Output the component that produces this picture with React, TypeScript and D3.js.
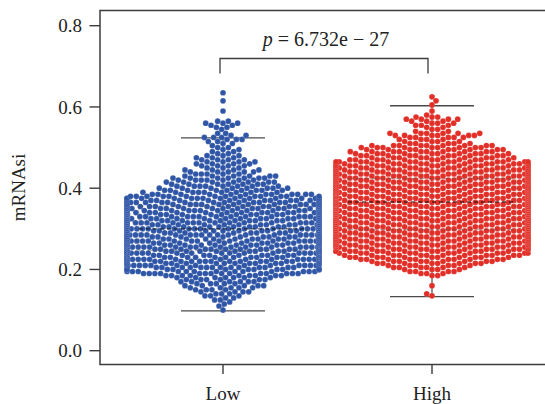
import React from "react";
import * as d3 from "d3";

// ---- data ----
const categories = ["Low", "High"];

// swarm values: value level -> number of samples at that level
const lowLevels = [0.100, 0.110, 0.115, 0.120, 0.125, 0.130, 0.135, 0.140, 0.145, 0.150, 0.155, 0.160, 0.165, 0.170, 0.175, 0.180, 0.185, 0.190, 0.195, 0.200, 0.205, 0.210, 0.215, 0.220, 0.225, 0.230, 0.235, 0.240, 0.245, 0.250, 0.255, 0.260, 0.265, 0.270, 0.275, 0.280, 0.285, 0.290, 0.295, 0.300, 0.305, 0.310, 0.315, 0.320, 0.325, 0.330, 0.335, 0.340, 0.345, 0.350, 0.355, 0.360, 0.365, 0.370, 0.375, 0.380, 0.385, 0.390, 0.395, 0.400, 0.405, 0.410, 0.415, 0.420, 0.425, 0.430, 0.435, 0.440, 0.445, 0.450, 0.455, 0.460, 0.465, 0.470, 0.475, 0.480, 0.485, 0.490, 0.495, 0.500, 0.505, 0.510, 0.515, 0.520, 0.525, 0.530, 0.535, 0.545, 0.550, 0.555, 0.560, 0.565, 0.590, 0.615, 0.635];
const lowCounts = [1, 1, 1, 1, 2, 2, 3, 3, 4, 4, 5, 5, 5, 6, 6, 7, 9, 14, 13, 14, 14, 15, 16, 17, 18, 19, 20, 21, 22, 22, 23, 23, 23, 23, 23, 23, 23, 23, 23, 23, 22, 22, 21, 21, 20, 20, 19, 19, 18, 18, 17, 17, 16, 15, 15, 14, 12, 9, 9, 8, 8, 7, 7, 7, 7, 6, 5, 5, 4, 3, 4, 4, 4, 4, 3, 3, 2, 2, 2, 2, 1, 2, 2, 3, 3, 2, 2, 1, 2, 2, 3, 2, 1, 1, 1];

const highLevels = [0.135, 0.140, 0.160, 0.185, 0.190, 0.195, 0.200, 0.205, 0.210, 0.215, 0.220, 0.225, 0.230, 0.235, 0.240, 0.245, 0.250, 0.255, 0.260, 0.265, 0.270, 0.275, 0.280, 0.285, 0.290, 0.295, 0.300, 0.305, 0.310, 0.315, 0.320, 0.325, 0.330, 0.335, 0.340, 0.345, 0.350, 0.355, 0.360, 0.365, 0.370, 0.375, 0.380, 0.385, 0.390, 0.395, 0.400, 0.405, 0.410, 0.415, 0.420, 0.425, 0.430, 0.435, 0.440, 0.445, 0.450, 0.455, 0.460, 0.465, 0.470, 0.475, 0.480, 0.485, 0.490, 0.495, 0.500, 0.505, 0.510, 0.515, 0.520, 0.525, 0.530, 0.535, 0.540, 0.545, 0.550, 0.555, 0.560, 0.565, 0.570, 0.575, 0.580, 0.590, 0.605, 0.615, 0.625];
const highCounts = [1, 1, 1, 2, 3, 4, 4, 6, 6, 8, 9, 10, 11, 12, 13, 13, 14, 15, 17, 18, 19, 20, 20, 21, 21, 22, 22, 22, 22, 22, 22, 23, 23, 23, 23, 23, 23, 23, 23, 23, 23, 23, 23, 22, 22, 21, 21, 20, 20, 19, 19, 18, 18, 17, 17, 16, 16, 15, 15, 14, 11, 10, 10, 10, 10, 9, 9, 9, 5, 4, 4, 5, 6, 6, 2, 2, 2, 3, 3, 3, 4, 3, 1, 1, 1, 1, 1];

// box statistics: [lower whisker, Q1, median, Q3, upper whisker]
const lowBox = [0.098, 0.247, 0.3, 0.356, 0.524];
const highBox = [0.133, 0.298, 0.366, 0.424, 0.603];

const yTicks = [0, 0.2, 0.4, 0.6, 0.8];
const yLabel = "mRNAsi";
const pValue = "6.732e − 27";

const colors = ["#2e55a6", "#e12e27"];

// ---- layout ----
const W = 545;
const H = 404;
const frame = { left: 100, top: 10.5, right: 560, bottom: 364.5 };
const R = 2.85;
const CAP = 96;
const FONT = "'Liberation Serif', 'Times New Roman', serif";

const y = d3.scaleLinear().domain([0, 0.8]).range([350.7, 25.7]);
const x = d3.scalePoint<string>().domain(categories).range([223, 432]);

function expand(levels: number[], counts: number[]) {
  const out: number[] = [];
  levels.forEach((v, i) => {
    for (let k = 0; k < counts[i]; k++) out.push(v);
  });
  return out;
}

type P = { v: number; py: number; x: number; dx: number };

function swarm(values: number[], r: number, cap: number): P[] {
  const d = 2 * r;
  const d2 = d * d;
  const pts = values
    .map((v) => ({ v, py: y(v), x: 0, dx: 0 }))
    .sort((a, b) => b.py - a.py);
  const placed: P[] = [];
  pts.forEach((p, i) => {
    const nb = placed.filter((q) => Math.abs(q.py - p.py) < d);
    const cands: number[] = [0];
    nb.forEach((q) => {
      const dy = p.py - q.py;
      const dx = Math.sqrt(Math.max(0, d2 - dy * dy));
      cands.push(q.x + dx, q.x - dx);
    });
    const sgn = i % 2 === 0 ? 1 : -1;
    cands.sort((a, b) => {
      const da = Math.abs(a) - Math.abs(b);
      if (Math.abs(da) > 1e-9) return da;
      return b * sgn - a * sgn;
    });
    let chosen = 0;
    for (const c of cands) {
      let ok = true;
      for (const q of nb) {
        const ddx = c - q.x;
        const ddy = p.py - q.py;
        if (ddx * ddx + ddy * ddy < d2 - 1e-6) {
          ok = false;
          break;
        }
      }
      if (ok) {
        chosen = c;
        break;
      }
    }
    p.x = chosen;
    p.dx = Math.max(-cap, Math.min(cap, chosen));
    placed.push(p);
  });
  return placed;
}

const groups = [
  { name: categories[0], values: expand(lowLevels, lowCounts), box: lowBox, color: colors[0] },
  { name: categories[1], values: expand(highLevels, highCounts), box: highBox, color: colors[1] },
];

export default function App() {
  const swarms = React.useMemo(() => groups.map((g) => swarm(g.values, R, CAP)), []);
  const lineCol = "#4a4a4a";
  const bracketY = 58.5;
  const bx0 = (x(categories[0]) as number) - 3;
  const bx1 = (x(categories[1]) as number) - 4;
  const hw = 84;
  const cw = 42;

  return (
    <svg
      width={W}
      height={H}
      style={{ position: "absolute", left: 0, top: 0, background: "#fff" }}
      fontFamily={FONT}
    >
      <rect x={0} y={0} width={W} height={H} fill="#fff" />

      {/* whiskers beneath the dots */}
      {groups.map((g, gi) => {
        const cx = x(g.name) as number;
        const [lo, , , , hi] = g.box;
        return (
          <g key={"wh" + gi}>
            <line x1={cx} x2={cx} y1={y(hi)} y2={y(lo)} stroke={lineCol} strokeWidth={1.2} />
            <line x1={cx - cw} x2={cx + cw} y1={y(hi)} y2={y(hi)} stroke={lineCol} strokeWidth={1.4} />
            <line x1={cx - cw} x2={cx + cw} y1={y(lo)} y2={y(lo)} stroke={lineCol} strokeWidth={1.4} />
          </g>
        );
      })}

      {/* swarm dots */}
      {groups.map((g, gi) => {
        const cx = x(g.name) as number;
        return (
          <g key={"sw" + gi}>
            {swarms[gi].map((p, i) => (
              <circle
                key={i}
                cx={cx + p.dx}
                cy={p.py}
                r={R}
                fill={g.color}
                stroke="#ffffff"
                strokeOpacity={0.45}
                strokeWidth={0.3}
              />
            ))}
          </g>
        );
      })}

      {/* box lines showing through the dots */}
      {groups.map((g, gi) => {
        const cx = x(g.name) as number;
        const [, q1, med, q3] = g.box;
        return (
          <g key={"box" + gi}>
            <line x1={cx - hw} x2={cx + hw} y1={y(q3)} y2={y(q3)} stroke="#555" strokeWidth={1} strokeOpacity={0.45} strokeDasharray="5 3" />
            <line x1={cx - hw} x2={cx + hw} y1={y(q1)} y2={y(q1)} stroke="#555" strokeWidth={1} strokeOpacity={0.45} strokeDasharray="5 3" />
            <line x1={cx - hw} x2={cx - hw} y1={y(q3)} y2={y(q1)} stroke="#555" strokeWidth={1} strokeOpacity={0.3} />
            <line x1={cx + hw} x2={cx + hw} y1={y(q3)} y2={y(q1)} stroke="#555" strokeWidth={1} strokeOpacity={0.3} />
            <line x1={cx - hw} x2={cx + hw} y1={y(med)} y2={y(med)} stroke="#111" strokeWidth={1.3} strokeOpacity={0.7} strokeDasharray="4 3" />
          </g>
        );
      })}

      {/* frame */}
      <path
        d={`M${frame.right},${frame.top}H${frame.left}V${frame.bottom}H${frame.right}`}
        fill="none"
        stroke="#3c3c3c"
        strokeWidth={1.5}
      />

      {/* y axis */}
      {yTicks.map((t) => (
        <g key={"yt" + t}>
          <line x1={frame.left - 10.5} x2={frame.left} y1={y(t)} y2={y(t)} stroke="#3c3c3c" strokeWidth={1.4} />
          <text x={82} y={y(t)} dy="0.35em" textAnchor="end" fontSize={19} fill="#222">
            {d3.format(".1f")(t)}
          </text>
        </g>
      ))}
      <text transform={`translate(25,${187.5}) rotate(-90)`} textAnchor="middle" fontSize={19} fill="#222">
        {yLabel}
      </text>

      {/* x axis */}
      {categories.map((c) => (
        <g key={"xt" + c}>
          <line x1={x(c) as number} x2={x(c) as number} y1={frame.bottom} y2={frame.bottom + 9.5} stroke="#3c3c3c" strokeWidth={1.4} />
          <text x={x(c) as number} y={400} textAnchor="middle" fontSize={19} fill="#222">
            {c}
          </text>
        </g>
      ))}

      {/* significance bracket */}
      <path
        d={`M${bx0},${bracketY + 15}V${bracketY}H${bx1}V${bracketY + 15}`}
        fill="none"
        stroke="#3c3c3c"
        strokeWidth={1.3}
      />
      <text x={326} y={46} textAnchor="middle" fontSize={20} fill="#222">
        <tspan fontStyle="italic">p</tspan>
        {" = " + pValue}
      </text>
    </svg>
  );
}
